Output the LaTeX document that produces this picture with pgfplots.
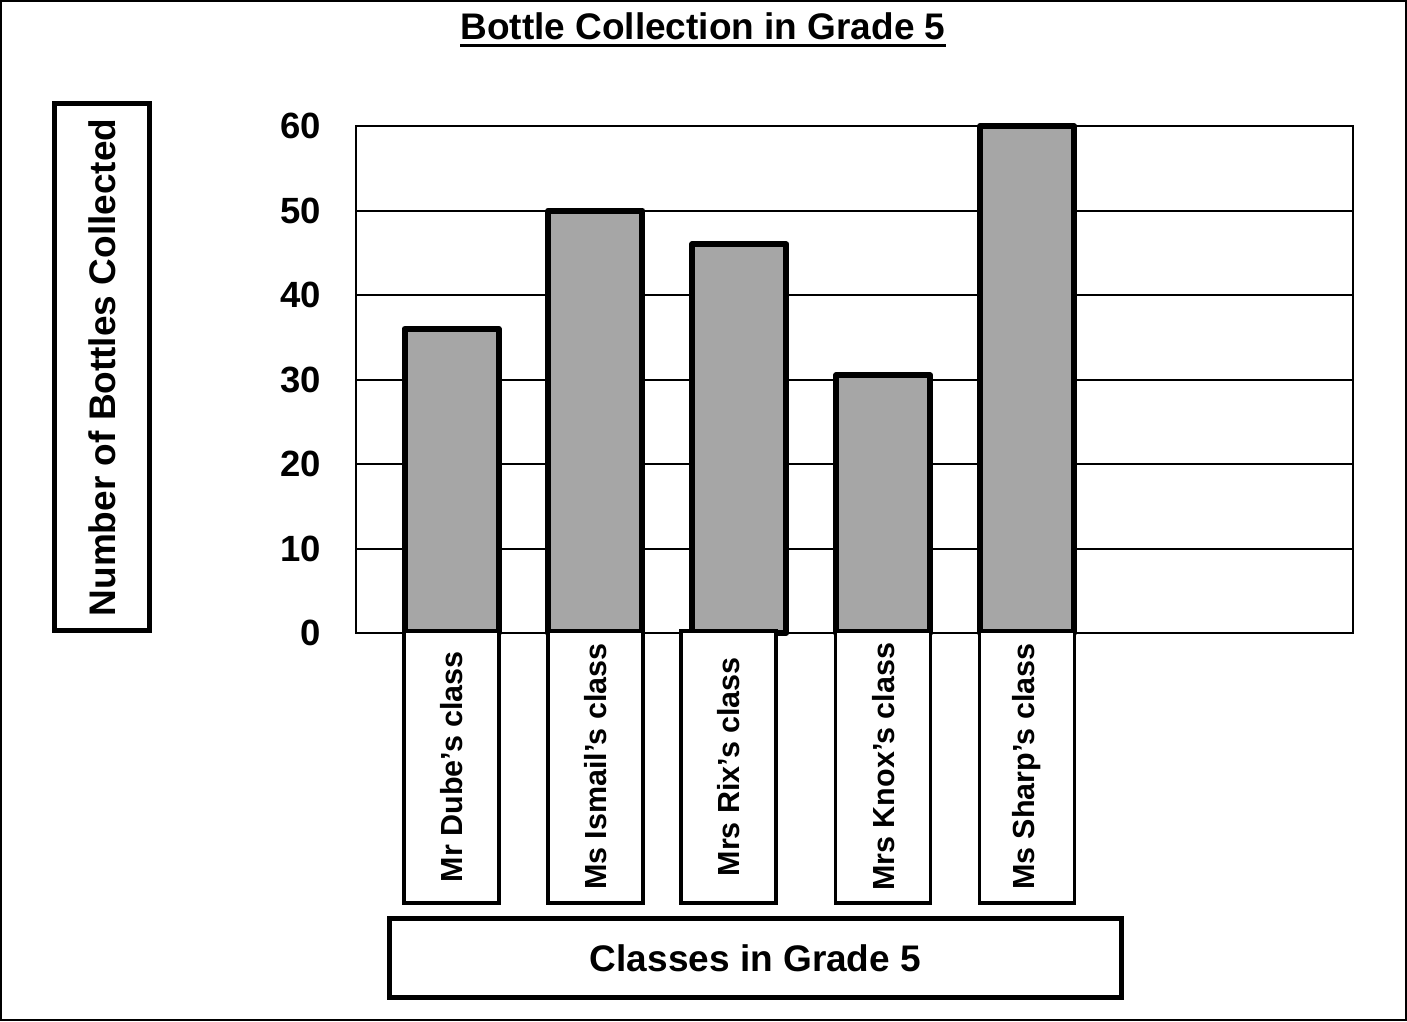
\documentclass[border=0pt]{standalone}
\usepackage{pgfplots}
\pgfplotsset{compat=1.18}
\usepackage{fontspec}
\setmainfont{Liberation Sans}
\definecolor{bargray}{RGB}{166,166,166}
\pgfplotsset{
  /pgfplots/layers/mylayers/.define layer set={
    axis background,axis grid,axis ticks,pre main,main,axis lines,axis tick labels,axis descriptions,axis foreground
  }{/pgfplots/layers/standard},
}
\newcommand{\thickul}[1]{\setbox0=\hbox{#1}\rlap{\raisebox{-8pt}{\rule{\wd0}{3.5pt}}}\box0}
\begin{document}
\begin{tikzpicture}
\path (0,0) rectangle (1407pt,1021pt);
\begin{axis}[
  set layers=mylayers,
  scale only axis,
  width=997pt, height=507pt,
  at={(356pt,388pt)}, anchor=south west,
  xmin=-0.6637, xmax=6.2648,
  ymin=0, ymax=60,
  clip=false,
  ytick={0,10,20,30,40,50,60},
  ymajorgrids,
  grid style={black, line width=2pt},
  axis line style={line width=2pt},
  major tick length=0pt,
  /pgf/number format/assume math mode=true,
  yticklabel style={font=\fontsize{36.5}{43}\selectfont\bfseries, anchor=east, inner sep=0pt, xshift=-35pt},
  xtick={0,1,1.925,3,4},
  xticklabels={Mr Dube's class, Ms Ismail's class, Mrs Rix's class, Mrs Knox's class, Ms Sharp's class},
  xticklabel style={font=\fontsize{30.5}{36}\selectfont\bfseries, yshift=4pt, rotate=90, anchor=east,
    draw=black, line width=3.5pt, fill=white, minimum width=272pt, minimum height=95pt, inner sep=0pt},
  ylabel={Number of Bottles Collected},
  ylabel style={at={(rel axis cs:-0.2543,0.5237)}, anchor=center, font=\fontsize{37}{43}\selectfont\bfseries,
    draw=black, line width=5pt, minimum width=527pt, minimum height=95pt, inner sep=0pt},
  xlabel={Classes in Grade 5},
  xlabel style={at={(rel axis cs:0.4007,-0.642)}, anchor=center, font=\fontsize{37}{43}\selectfont\bfseries,
    draw=black, line width=5pt, minimum width=731pt, minimum height=79pt, inner sep=0pt},
  title={\thickul{Bottle Collection in Grade 5}},
  title style={at={(rel axis cs:0.348,1)}, anchor=base, yshift=81pt, inner sep=0pt, font=\fontsize{37}{43}\selectfont\bfseries},
]
\addplot[ybar, bar width=94pt, fill=bargray, draw=black, line width=6pt, line join=round]
  coordinates {(0,36) (1,50) (2,46) (3,30.5) (4,60)};
\end{axis}
\draw[line width=2pt] (1pt,1pt) rectangle (1406pt,1020pt);
\end{tikzpicture}
\end{document}
